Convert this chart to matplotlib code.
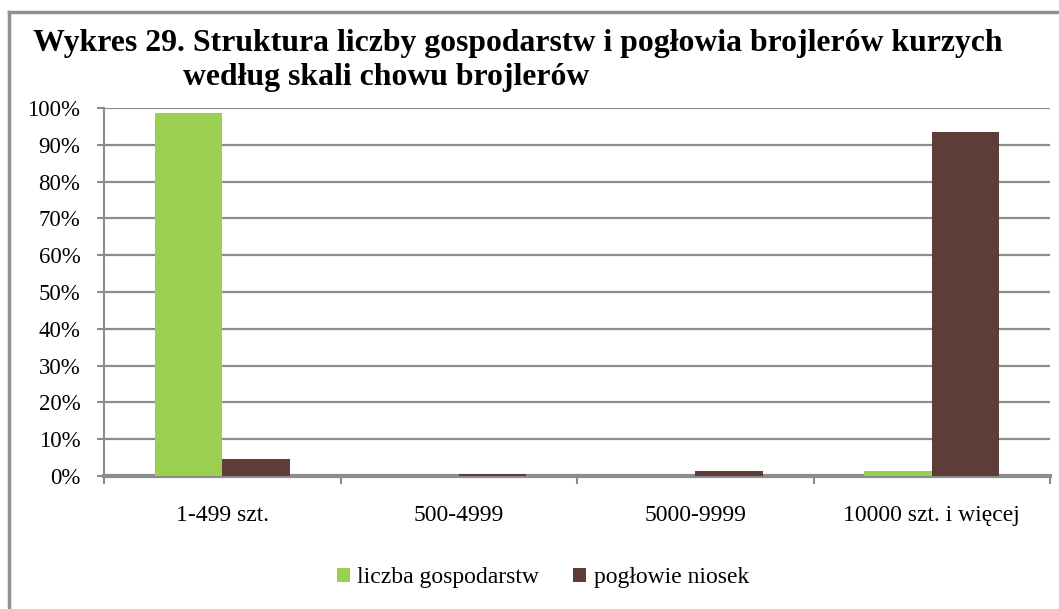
import matplotlib.pyplot as plt
from matplotlib.lines import Line2D
import numpy as np

plt.rcParams['font.family'] = 'serif'
plt.rcParams['font.serif'] = ['Liberation Serif', 'DejaVu Serif']

categories = ['1-499 szt.', '500-4999', '5000-9999', '10000 szt. i więcej']
gospodarstwa = [98.6, 0.0, 0.0, 1.4]
poglowie = [4.6, 0.5, 1.4, 93.5]
series_names = ['liczba gospodarstw', 'pogłowie niosek']
y_ticks = [0, 10, 20, 30, 40, 50, 60, 70, 80, 90, 100]

green = '#9BCF50'
brown = '#5E3C37'
grid_c = '#8C8C8C'

fig = plt.figure(figsize=(10.59, 6.09), dpi=100)
ax = fig.add_axes([104/1059, 1 - 476/609, (1050 - 104)/1059, (476 - 108)/609])

x = np.arange(len(categories))
w = 0.285
ax.bar(x - w/2, gospodarstwa, width=w, color=green, zorder=3, label=series_names[0])
ax.bar(x + w/2, poglowie, width=w, color=brown, zorder=3, label=series_names[1])

ax.set_xlim(-0.5, len(categories) - 0.5)
ax.set_ylim(0, 100)
ax.set_yticks(y_ticks)
ax.set_yticklabels([f'{v}%' for v in y_ticks], fontsize=16.5)
ax.yaxis.grid(True, color=grid_c, lw=1.6, zorder=0)
ax.set_axisbelow(True)

# category labels in the middle, ticks on the boundaries
ax.set_xticks(x)
ax.set_xticklabels(categories, fontsize=17)
ax.tick_params(axis='x', length=0, pad=21)
ax.set_xticks(np.arange(-0.5, len(categories)), minor=True)
ax.tick_params(axis='x', which='minor', length=6, width=1.5, color=grid_c, direction='out')
ax.tick_params(axis='y', length=5, width=1.5, color=grid_c, pad=12)

for s in ['top', 'right']:
    ax.spines[s].set_visible(False)
ax.spines['left'].set_color(grid_c)
ax.spines['left'].set_linewidth(1.5)
ax.spines['bottom'].set_color(grid_c)
ax.spines['bottom'].set_linewidth(3)

# outer frame (top and left edges only are in view)
fig.add_artist(Line2D([9/1059, 1], [1 - 12/609, 1 - 12/609], color='#909090', lw=2.5,
                      transform=fig.transFigure))
fig.add_artist(Line2D([9/1059, 9/1059], [0, 1 - 12/609], color='#909090', lw=2.5,
                      transform=fig.transFigure))

fig.text(33/1059, 1 - 51/609, 'Wykres 29. Struktura liczby gospodarstw i pogłowia brojlerów kurzych',
         fontsize=22.9, fontweight='bold', va='baseline', ha='left')
fig.text(183/1059, 1 - 85/609, 'według skali chowu brojlerów',
         fontsize=22.9, fontweight='bold', va='baseline', ha='left')

ax.legend(loc='center', bbox_to_anchor=(543/1059, 1 - 578/609), bbox_transform=fig.transFigure,
          ncol=2, frameon=False, fontsize=17, handlelength=0.55, handleheight=0.55,
          handletextpad=0.3, columnspacing=1.45)

fig.savefig('out.png', dpi=100)
